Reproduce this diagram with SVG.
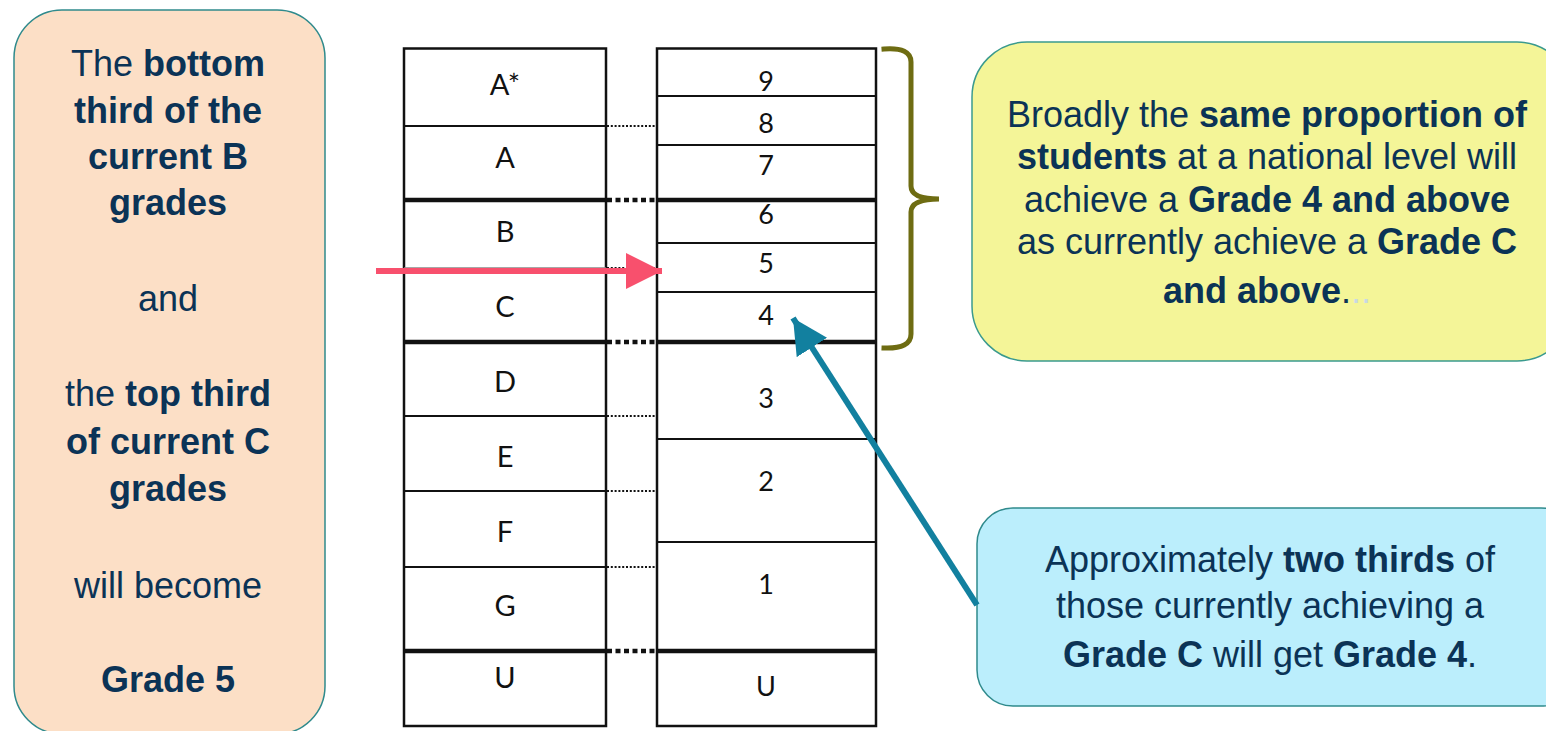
<svg xmlns="http://www.w3.org/2000/svg" width="1546" height="731" viewBox="0 0 1546 731">
<style>
.note{font-family:"Liberation Sans",Arial,sans-serif;font-size:36px;fill:#0B3356;text-anchor:middle}
.b{font-weight:bold}
.cell{font-family:Lato,"Open Sans",sans-serif;fill:#111;text-anchor:middle}
.old{font-size:29px}
.new{font-size:27px}
.col{fill:#fff;stroke:#111;stroke-width:2.5}
.thin{stroke:#111;stroke-width:2}
.faint{stroke:#888;stroke-width:1.5}
.thick{stroke:#111;stroke-width:4.5}
.dot{stroke:#111;stroke-width:1.8;stroke-dasharray:2 1.8}
.dotb{stroke:#111;stroke-width:4.5;stroke-dasharray:5 3.5}
</style>
<defs>
<marker id="pinkHead" markerUnits="userSpaceOnUse" markerWidth="40" markerHeight="40" refX="36" refY="18" orient="auto"><path d="M0,0 L36,18 L0,36 Z" fill="#F8506D"/></marker>
<marker id="tealHead" markerUnits="userSpaceOnUse" markerWidth="40" markerHeight="40" refX="35" refY="18" orient="auto"><path d="M0,0 L35,18 L0,36 Z" fill="#12809F"/></marker>
</defs>

<g id="note-left">
<rect x="14" y="10" width="311" height="724" rx="48" fill="#FCDFC6" stroke="#2F8A8C" stroke-width="1.5"/>
<text class="note" x="168" y="76">The <tspan class="b">bottom</tspan></text>
<text class="note b" x="168" y="123">third of the</text>
<text class="note b" x="168" y="169">current B</text>
<text class="note b" x="168" y="215">grades</text>
<text class="note" x="168" y="311">and</text>
<text class="note" x="168" y="406">the <tspan class="b">top third</tspan></text>
<text class="note b" x="168" y="454">of current C</text>
<text class="note b" x="168" y="501">grades</text>
<text class="note" x="168" y="598">will become</text>
<text class="note b" x="168" y="692">Grade 5</text>
</g>

<g id="old-grades">
<rect class="col" x="404" y="48.5" width="202" height="677.5"/>
<line class="thin" x1="404" y1="126" x2="606" y2="126"/>
<line class="thick" x1="404" y1="200" x2="606" y2="200"/>
<line class="faint" x1="404" y1="268" x2="606" y2="268"/>
<line class="thick" x1="404" y1="342" x2="606" y2="342"/>
<line class="thin" x1="404" y1="416" x2="606" y2="416"/>
<line class="thin" x1="404" y1="491" x2="606" y2="491"/>
<line class="thin" x1="404" y1="567" x2="606" y2="567"/>
<line class="thick" x1="404" y1="651" x2="606" y2="651"/>
<text class="cell old" x="505" y="95">A*</text>
<text class="cell old" x="505" y="168">A</text>
<text class="cell old" x="505" y="242">B</text>
<text class="cell old" x="505" y="317">C</text>
<text class="cell old" x="505" y="392">D</text>
<text class="cell old" x="505" y="467">E</text>
<text class="cell old" x="505" y="542">F</text>
<text class="cell old" x="505" y="616">G</text>
<text class="cell old" x="505" y="688">U</text>
</g>

<g id="new-grades">
<rect class="col" x="657" y="48.5" width="219" height="677.5"/>
<line class="thin" x1="657" y1="96" x2="876" y2="96"/>
<line class="thin" x1="657" y1="145" x2="876" y2="145"/>
<line class="thick" x1="657" y1="200" x2="876" y2="200"/>
<line class="thin" x1="657" y1="243" x2="876" y2="243"/>
<line class="thin" x1="657" y1="292" x2="876" y2="292"/>
<line class="thick" x1="657" y1="342" x2="876" y2="342"/>
<line class="thin" x1="657" y1="439" x2="876" y2="439"/>
<line class="thin" x1="657" y1="542" x2="876" y2="542"/>
<line class="thick" x1="657" y1="651" x2="876" y2="651"/>
<text class="cell new" x="766" y="91">9</text>
<text class="cell new" x="766" y="133">8</text>
<text class="cell new" x="766" y="175">7</text>
<text class="cell new" x="766" y="224">6</text>
<text class="cell new" x="766" y="273">5</text>
<text class="cell new" x="766" y="325">4</text>
<text class="cell new" x="766" y="408">3</text>
<text class="cell new" x="766" y="491">2</text>
<text class="cell new" x="766" y="594">1</text>
<text class="cell new" x="766" y="696">U</text>
</g>

<g id="brace">
<path d="M884 49 Q911 47 911 62 L911 186 Q911 199 939 199 Q911 199 911 212 L911 334 Q911 349 884 348" fill="none" stroke="#6E6C12" stroke-width="5" stroke-linecap="square"/>
</g>

<g id="note-yellow">
<rect x="972" y="42" width="600" height="319" rx="55" fill="#F4F598" stroke="#3A9A8E" stroke-width="1.5"/>
<text class="note" x="1267" y="127">Broadly the <tspan class="b">same proportion of</tspan></text>
<text class="note" x="1267" y="169"><tspan class="b">students</tspan> at a national level will</text>
<text class="note" x="1267" y="212">achieve a <tspan class="b">Grade 4 and above</tspan></text>
<text class="note" x="1267" y="254">as currently achieve a <tspan class="b">Grade C</tspan></text>
<text class="note" x="1267" y="303"><tspan class="b">and above</tspan>.<tspan fill="#C9D9E2">..</tspan></text>
</g>

<g id="note-blue">
<rect x="977" y="508" width="600" height="198" rx="36" fill="#BBEEFC" stroke="#2F8A8C" stroke-width="1.5"/>
<text class="note" x="1270" y="572">Approximately <tspan class="b">two thirds</tspan> of</text>
<text class="note" x="1270" y="618">those currently achieving a</text>
<text class="note" x="1270" y="667"><tspan class="b">Grade C</tspan> will get <tspan class="b">Grade 4</tspan>.</text>
</g>

<g id="connectors">
<line class="dot" x1="607" y1="126" x2="656" y2="126"/>
<line class="dotb" x1="607" y1="200" x2="656" y2="200"/>
<line class="dot" x1="607" y1="268" x2="656" y2="268"/>
<line class="dotb" x1="607" y1="342" x2="656" y2="342"/>
<line class="dot" x1="607" y1="416" x2="656" y2="416"/>
<line class="dot" x1="607" y1="491" x2="656" y2="491"/>
<line class="dot" x1="607" y1="567" x2="656" y2="567"/>
<line class="dotb" x1="607" y1="651" x2="656" y2="651"/>
<line x1="376" y1="271" x2="662" y2="271" stroke="#F8506D" stroke-width="6" marker-end="url(#pinkHead)"/>
<line x1="977" y1="605" x2="793" y2="318" stroke="#12809F" stroke-width="6" marker-end="url(#tealHead)"/>
</g>
</svg>
